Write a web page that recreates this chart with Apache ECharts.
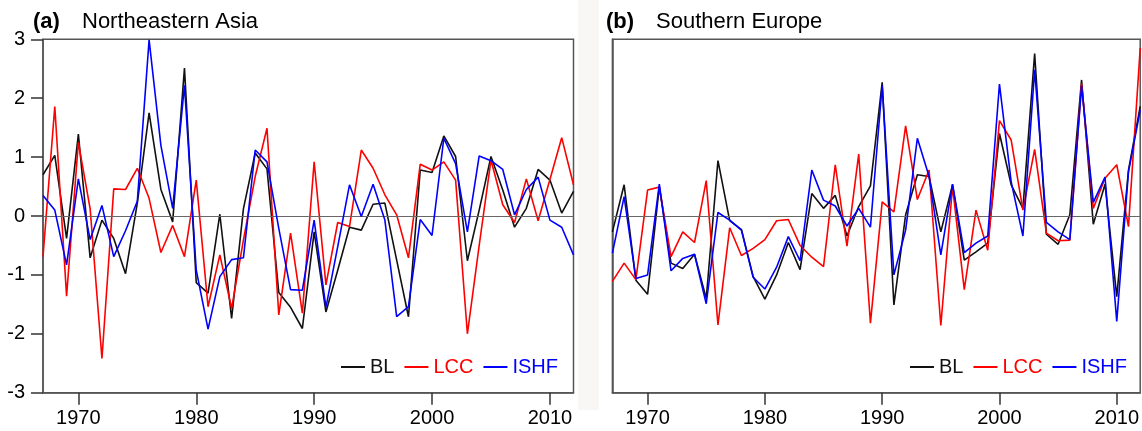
<!DOCTYPE html>
<html>
<head>
<meta charset="utf-8">
<script src="https://cdn.jsdelivr.net/npm/echarts@6/dist/echarts.min.js"></script>
<style>
html,body{margin:0;padding:0;background:#fff;}
#chart{width:1142px;height:431px;}
</style>
</head>
<body>
<div id="chart"></div>
<script>
const years = [];
for (let y = 1967; y <= 2012; y++) years.push(y);
const xTicks = [1970, 1980, 1990, 2000, 2010];
const yTicks = [-3, -2, -1, 0, 1, 2, 3];

const BL_a = [0.70,1.03,-0.38,1.39,-0.71,-0.07,-0.38,-0.98,0.22,1.75,0.45,-0.10,2.51,-1.13,-1.31,0.03,-1.74,0.12,1.07,0.80,-1.30,-1.55,-1.91,-0.27,-1.63,-0.92,-0.19,-0.24,0.20,0.22,-0.75,-1.71,0.78,0.74,1.36,1.01,-0.76,0.10,1.01,0.44,-0.19,0.13,0.79,0.61,0.05,0.42];
const LCC_a = [-0.69,1.86,-1.36,1.25,0.12,-2.42,0.46,0.45,0.81,0.30,-0.62,-0.16,-0.69,0.61,-1.54,-0.66,-1.57,-0.41,0.67,1.49,-1.68,-0.29,-1.65,0.92,-1.17,-0.11,-0.18,1.12,0.81,0.36,0.02,-0.71,0.88,0.78,0.92,0.61,-2.00,-0.50,0.95,0.19,-0.11,0.63,-0.08,0.62,1.33,0.53];
const ISHF_a = [0.35,0.10,-0.83,0.63,-0.40,0.18,-0.69,-0.25,0.25,2.99,1.20,0.13,2.22,-0.92,-1.92,-1.03,-0.74,-0.71,1.12,0.92,-0.21,-1.25,-1.26,-0.07,-1.55,-0.52,0.53,-0.01,0.54,-0.07,-1.71,-1.54,-0.06,-0.33,1.32,0.89,-0.27,1.02,0.94,0.79,0.02,0.45,0.66,-0.07,-0.19,-0.66];

const BL_b = [-0.27,0.53,-1.09,-1.33,0.50,-0.80,-0.89,-0.65,-1.40,0.94,-0.08,-0.23,-1.03,-1.41,-1.00,-0.45,-0.91,0.38,0.13,0.35,-0.34,0.16,0.51,2.27,-1.51,0.02,0.70,0.67,-0.27,0.53,-0.75,-0.61,-0.46,1.40,0.53,0.13,2.76,-0.31,-0.48,0.02,2.31,-0.14,0.54,-1.37,0.78,1.86];
const LCC_b = [-1.11,-0.80,-1.08,0.44,0.49,-0.69,-0.27,-0.45,0.60,-1.85,-0.20,-0.67,-0.55,-0.40,-0.08,-0.06,-0.50,-0.70,-0.86,0.87,-0.51,1.05,-1.82,0.24,0.07,1.53,0.28,0.78,-1.86,0.50,-1.25,0.10,-0.58,1.62,1.29,0.10,1.13,-0.29,-0.42,-0.41,2.25,0.13,0.64,0.87,-0.18,2.85];
const ISHF_b = [-0.63,0.33,-1.06,-1.00,0.54,-0.93,-0.72,-0.65,-1.49,0.06,-0.07,-0.24,-1.04,-1.24,-0.87,-0.35,-0.76,0.78,0.27,0.17,-0.17,0.13,-0.19,2.22,-1.00,-0.24,1.32,0.67,-0.66,0.54,-0.62,-0.46,-0.34,2.24,0.58,-0.34,2.48,-0.11,-0.27,-0.40,2.21,0.23,0.66,-1.79,0.75,1.80];

const seriesNames = ['BL', 'LCC', 'ISHF'];
const colors = ['#111111', '#ff0000', '#0000ff'];

const pair = arr => arr.map((v, i) => [years[i], v]);

const chart = echarts.init(document.getElementById('chart'), null, {renderer: 'canvas'});

const frameColor = '#555';
const mainFont = "'Liberation Sans', Arial, Helvetica, sans-serif";

function xAxis(gi) {
  return {
    type: 'value', gridIndex: gi, min: 1967, max: 2012,
    axisLine: {show: true, onZero: false, lineStyle: {color: frameColor, width: 1.5}},
    axisTick: {show: true, customValues: xTicks, length: 12, lineStyle: {color: '#333', width: 1.5}},
    axisLabel: {show: true, customValues: xTicks, margin: 16, fontSize: 20, color: '#000', fontFamily: mainFont,
      formatter: v => String(v)},
    splitLine: {show: false}
  };
}
function yAxis(gi, labels) {
  return {
    type: 'value', gridIndex: gi, min: -3, max: 3, interval: 1,
    axisLine: {show: true, onZero: false, lineStyle: {color: frameColor, width: 1.5}},
    axisTick: {show: labels, length: 12, lineStyle: {color: '#333', width: 1.5}},
    axisLabel: {show: labels, margin: 18, fontSize: 20, color: '#000', fontFamily: mainFont,
      formatter: v => String(v)},
    splitLine: {show: false}
  };
}

function mkSeries(gi, datas) {
  return datas.map((d, k) => {
    const s = {
      name: seriesNames[k], type: 'line', xAxisIndex: gi, yAxisIndex: gi,
      data: pair(d), showSymbol: false, symbol: 'none', animation: false,
      lineStyle: {color: colors[k], width: 1.6}, itemStyle: {color: colors[k]},
      z: 3 + k
    };
    if (k === 0) {
      s.markLine = {
        silent: true, symbol: 'none', animation: false,
        label: {show: false},
        lineStyle: {color: '#666', width: 1, type: 'solid'},
        data: [{yAxis: 0}]
      };
    }
    return s;
  });
}

function legend(right) {
  return {
    right: right, top: 352, orient: 'horizontal',
    itemWidth: 24, itemHeight: 2, itemGap: 10, icon: 'rect',
    selectedMode: false,
    textStyle: {fontSize: 20, fontFamily: mainFont, padding: [0,0,0,0]},
    data: seriesNames.map((n, k) => ({name: n, textStyle: {color: colors[k]}}))
  };
}

const option = {
  backgroundColor: '#ffffff',
  animation: false,
  grid: [
    {left: 43, top: 39.3, width: 530.5, height: 353.4, show: true, borderColor: frameColor, borderWidth: 1.5, backgroundColor: 'transparent', containLabel: false},
    {left: 612.4, top: 39.3, width: 529.4, height: 353.4, show: true, borderColor: frameColor, borderWidth: 1.5, backgroundColor: 'transparent', containLabel: false}
  ],
  xAxis: [xAxis(0), xAxis(1)],
  yAxis: [yAxis(0, true), yAxis(1, false)],
  legend: [legend(579), legend(10)],
  series: [].concat(mkSeries(0, [BL_a, LCC_a, ISHF_a]), mkSeries(1, [BL_b, LCC_b, ISHF_b])),
  graphic: [
    {type: 'rect', z: -10, silent: true, shape: {x: 578, y: 0, width: 21, height: 410}, style: {fill: '#f8f7f5'}},
    {type: 'text', left: 33, top: 11, style: {text: '(a)', fill: '#000', font: 'bold 22px ' + mainFont}},
    {type: 'text', left: 82, top: 11, style: {text: 'Northeastern Asia', fill: '#000', font: '22px ' + mainFont}},
    {type: 'text', left: 606, top: 11, style: {text: '(b)', fill: '#000', font: 'bold 22px ' + mainFont}},
    {type: 'text', left: 656, top: 11, style: {text: 'Southern Europe', fill: '#000', font: '22px ' + mainFont}}
  ]
};
chart.setOption(option);
</script>
</body>
</html>
